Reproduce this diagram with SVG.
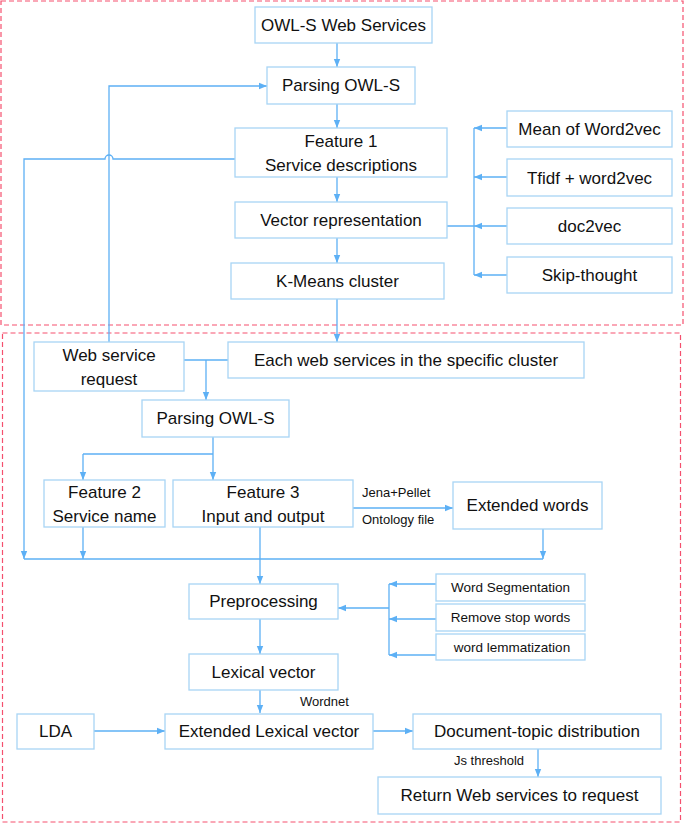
<svg xmlns="http://www.w3.org/2000/svg" width="685" height="825" viewBox="0 0 685 825">
<style>
.box{fill:#fff;stroke:#a8d5f5;stroke-width:1.3}
.t{font-family:"Liberation Sans",Arial,sans-serif;font-size:17px;fill:#111;text-anchor:middle}
.s{font-family:"Liberation Sans",Arial,sans-serif;font-size:13.5px;fill:#111;text-anchor:middle}
.sl{font-family:"Liberation Sans",Arial,sans-serif;font-size:13px;fill:#111}
.c{fill:none;stroke:#5db0f5;stroke-width:1.3}
.a{marker-end:url(#ah)}
.frame{fill:none;stroke:#f5506e;stroke-width:1.2;stroke-dasharray:5,3}
</style>
<defs>
<marker id="ah" viewBox="0 0 10 10" refX="10" refY="5" markerWidth="8" markerHeight="8" markerUnits="userSpaceOnUse" orient="auto">
<path d="M0,1 L10,5 L0,9 z" fill="#5db0f5"/>
</marker>
</defs>
<rect class="frame" x="1" y="1" width="682" height="324"/>
<rect class="frame" x="2.5" y="333" width="678" height="489" stroke="#f77d97"/>

<g id="connectors">
<path class="c a" d="M337,43 V67"/>
<path class="c a" d="M337,104 V128"/>
<path class="c a" d="M337,177 V202"/>
<path class="c a" d="M337,238 V263"/>
<path class="c a" d="M337,299 V342"/>
<path class="c a" d="M235,159 H113 A4,4 0 0 0 105,159 H24 V559"/>
<path class="c a" d="M109,342 V86 H267"/>
<path class="c" d="M474,128 V275 M447,226 H474"/>
<path class="c a" d="M507,128 H474"/>
<path class="c a" d="M507,177 H474"/>
<path class="c a" d="M507,226 H474"/>
<path class="c a" d="M507,275 H474"/>
<path class="c" d="M184,360 H228"/>
<path class="c a" d="M206,360 V400"/>
<path class="c" d="M213,437 V454 M83,454 H213"/>
<path class="c a" d="M83,454 V480"/>
<path class="c a" d="M213,454 V480"/>
<path class="c a" d="M353,508 H453"/>
<path class="c" d="M24,559 H543"/>
<path class="c a" d="M83,527 V559"/>
<path class="c a" d="M543,529 V559"/>
<path class="c a" d="M260,527 V584"/>
<path class="c" d="M389,584 V655"/>
<path class="c a" d="M436,584 H389"/>
<path class="c a" d="M436,619 H389"/>
<path class="c a" d="M436,655 H389"/>
<path class="c a" d="M389,608 H338"/>
<path class="c a" d="M260,619 V654"/>
<path class="c a" d="M260,690 V713"/>
<path class="c a" d="M94,731 H165"/>
<path class="c a" d="M373,731 H413"/>
<path class="c a" d="M538,749 V777"/>
</g>

<g id="owls-web-services"><rect class="box" x="255" y="7" width="177" height="36"/><text class="t" x="343.5" y="31">OWL-S Web Services</text></g>
<g id="parsing-owls-1"><rect class="box" x="267" y="67" width="148" height="37"/><text class="t" x="341" y="91">Parsing OWL-S</text></g>
<g id="feature-1"><rect class="box" x="235" y="128" width="212" height="49"/><text class="t" x="341" y="147">Feature 1</text><text class="t" x="341" y="171">Service descriptions</text></g>
<g id="vector-representation"><rect class="box" x="235" y="202" width="212" height="36"/><text class="t" x="341" y="226">Vector representation</text></g>
<g id="kmeans-cluster"><rect class="box" x="231" y="263" width="213" height="36"/><text class="t" x="337.5" y="287">K-Means cluster</text></g>
<g id="mean-word2vec"><rect class="box" x="507" y="111" width="165" height="36"/><text class="t" x="589.5" y="135">Mean of Word2vec</text></g>
<g id="tfidf-word2vec"><rect class="box" x="507" y="159" width="165" height="37"/><text class="t" x="589.5" y="183.5">Tfidf + word2vec</text></g>
<g id="doc2vec"><rect class="box" x="507" y="208" width="165" height="36"/><text class="t" x="589.5" y="232">doc2vec</text></g>
<g id="skip-thought"><rect class="box" x="507" y="257" width="165" height="36"/><text class="t" x="589.5" y="281">Skip-thought</text></g>

<g id="web-service-request"><rect class="box" x="34" y="342" width="150" height="49"/><text class="t" x="109" y="361">Web service</text><text class="t" x="109" y="385">request</text></g>
<g id="each-web-services"><rect class="box" x="228" y="342" width="356" height="36"/><text class="t" x="406" y="366">Each web services in the specific cluster</text></g>
<g id="parsing-owls-2"><rect class="box" x="142" y="400" width="147" height="37"/><text class="t" x="215.5" y="424">Parsing OWL-S</text></g>
<g id="feature-2"><rect class="box" x="44" y="480" width="121" height="47"/><text class="t" x="104.5" y="498">Feature 2</text><text class="t" x="104.5" y="522">Service name</text></g>
<g id="feature-3"><rect class="box" x="173" y="480" width="180" height="47"/><text class="t" x="263" y="498">Feature 3</text><text class="t" x="263" y="522">Input and output</text></g>
<g id="edge-labels">
<text class="sl" x="362" y="497">Jena+Pellet</text>
<text class="sl" x="362" y="524">Ontology file</text>
<text class="sl" x="300" y="706">Wordnet</text>
<text class="sl" x="454" y="765">Js threshold</text>
</g>
<g id="extended-words"><rect class="box" x="453" y="482" width="149" height="47"/><text class="t" x="527.5" y="511">Extended words</text></g>
<g id="preprocessing"><rect class="box" x="189" y="584" width="149" height="35"/><text class="t" x="263.5" y="607">Preprocessing</text></g>
<g id="word-segmentation"><rect class="box" x="436" y="574" width="149" height="27"/><text class="s" x="510.5" y="592">Word Segmentation</text></g>
<g id="remove-stop-words"><rect class="box" x="436" y="604" width="149" height="27"/><text class="s" x="510.5" y="622">Remove stop words</text></g>
<g id="word-lemmatization"><rect class="box" x="436" y="634" width="149" height="26"/><text class="s" x="512" y="652">word lemmatization</text></g>
<g id="lexical-vector"><rect class="box" x="189" y="654" width="149" height="36"/><text class="t" x="263.5" y="678">Lexical vector</text></g>
<g id="lda"><rect class="box" x="17" y="714" width="77" height="35"/><text class="t" x="55.5" y="737">LDA</text></g>
<g id="extended-lexical-vector"><rect class="box" x="165" y="714" width="208" height="35"/><text class="t" x="269" y="737">Extended Lexical vector</text></g>
<g id="document-topic"><rect class="box" x="413" y="714" width="248" height="35"/><text class="t" x="537" y="737">Document-topic distribution</text></g>
<g id="return-web-services"><rect class="box" x="378" y="777" width="283" height="37"/><text class="t" x="519.5" y="801">Return Web services to request</text></g>
</svg>
